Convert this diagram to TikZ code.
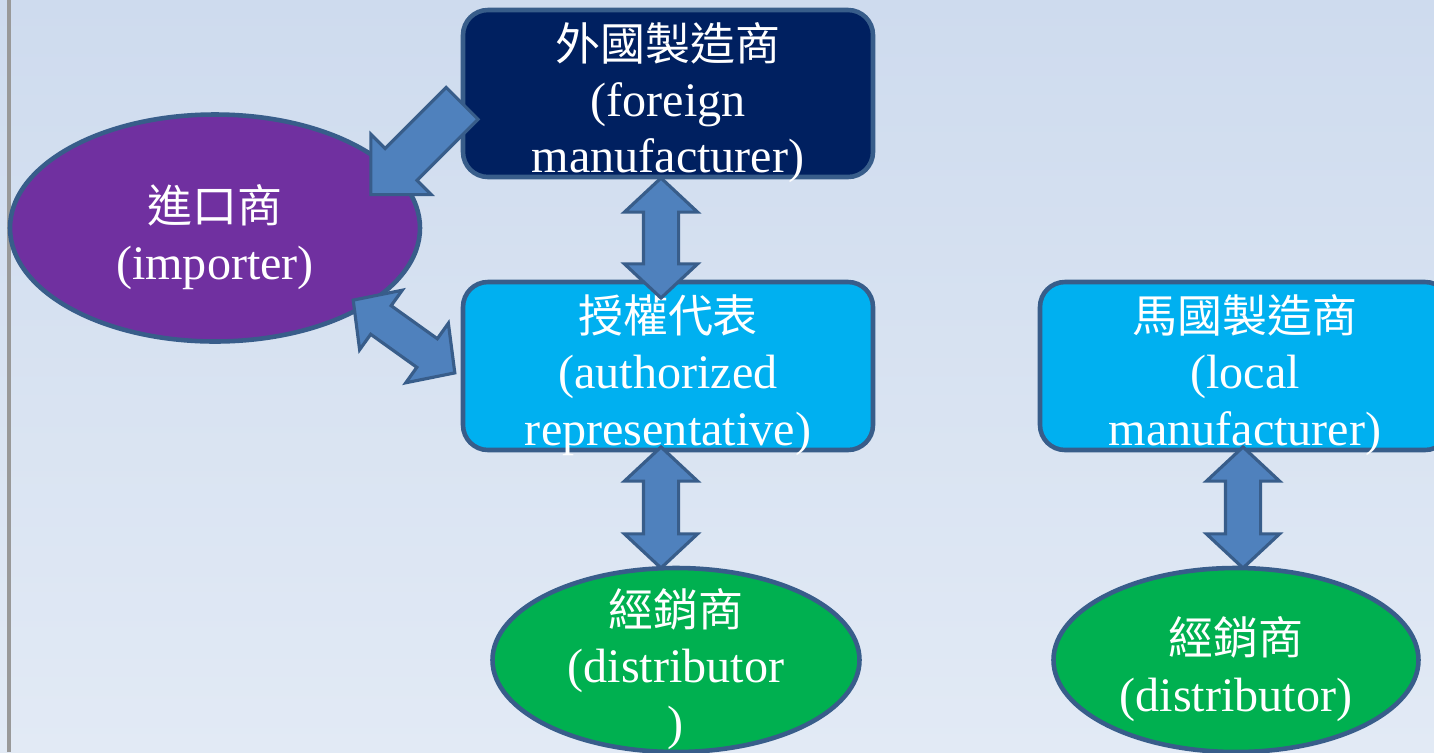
\documentclass[tikz,border=0pt]{standalone}
\usepackage{xcolor}
\usepackage{fontspec}
\setmainfont{Liberation Serif}
\newfontfamily\cjk{Noto Sans CJK TC}
\usepackage{tikz}
\usetikzlibrary{shapes.geometric, shapes.arrows}

\definecolor{bgtop}{HTML}{CEDBEE}
\definecolor{bgbot}{HTML}{E2EAF5}
\definecolor{navyfill}{HTML}{002060}
\definecolor{purplefill}{HTML}{7030A0}
\definecolor{cyanfill}{HTML}{00B0F0}
\definecolor{greenfill}{HTML}{00B050}
\definecolor{arrowfill}{HTML}{4F81BD}
\definecolor{edgeblue}{HTML}{385D8A}

% first (Chinese) line of a node, with a strut so the text sits a bit low
\newcommand{\cjkline}[1]{{\cjk\fontsize{12.8}{16.0}\selectfont\rule{0pt}{0.56cm}#1}}

\begin{document}
\begin{tikzpicture}[boxnode/.style={rectangle, rounded corners=0.25cm, draw=edgeblue, line width=1.3pt, minimum width=4.1cm, minimum height=1.67cm, text=white, align=center, inner xsep=0pt, inner ysep=-0.1cm, font=\fontsize{13.7}{16.0}\selectfont},
  ovalnode/.style={ellipse, draw=edgeblue, line width=1.3pt, text=white, align=center, inner xsep=0pt, inner ysep=-0.3cm, font=\fontsize{13.7}{16.0}\selectfont},
  dblarrow/.style={double arrow, draw=edgeblue, fill=arrowfill, line width=0.9pt, minimum width=0.70cm, minimum height=1.21cm, double arrow head extend=0.19cm, double arrow tip angle=94, inner xsep=0pt, inner ysep=0.16cm},
  sglarrow/.style={single arrow, draw=edgeblue, fill=arrowfill, line width=0.9pt, minimum width=0.82cm, minimum height=1.29cm, single arrow head extend=0.20cm, single arrow tip angle=90, inner xsep=0pt, inner ysep=0.21cm}]
\clip (0,0) rectangle (14.34,7.52);
\shade[top color=bgtop, bottom color=bgbot] (0,0) rectangle (14.34,7.52);
\draw[gray!80, line width=0.9pt] (0.09,0) -- (0.09,7.52);

\node[boxnode, fill=navyfill] at (6.68, 6.585) (foreign) {\cjkline{外國製造商}\\(foreign\\manufacturer)};
\node[ovalnode, fill=purplefill, minimum width=4.1cm, minimum height=2.27cm] at (2.15, 5.24) (importer) {\cjkline{進口商}\\(importer)};
\node[boxnode, fill=cyanfill, minimum height=1.68cm] at (6.68, 3.86) (authrep) {\cjkline{授權代表}\\(authorized\\representative)};
\node[boxnode, fill=cyanfill, minimum height=1.68cm] at (12.45, 3.86) (localmfr) {\cjkline{馬國製造商}\\(local\\manufacturer)};
\node[ovalnode, fill=greenfill, minimum width=3.67cm, minimum height=1.84cm] at (6.76, 0.92) (dist1) {\cjkline{經銷商}\\(distributor\\)};
\node[ovalnode, fill=greenfill, minimum width=3.65cm, minimum height=1.84cm] at (12.36, 0.92) (dist2) {\cjkline{經銷商}\\(distributor)};

\node[sglarrow, rotate=225] at (4.245, 6.11) (fmimp) {};
\node[dblarrow, rotate=90, minimum height=1.20cm] at (6.61, 5.14) (fmar) {};
\node[dblarrow, rotate=-35.6, minimum height=1.25cm] at (4.04, 4.155) (impar) {};
\node[dblarrow, rotate=90] at (6.61, 2.445) (ard1) {};
\node[dblarrow, rotate=90] at (12.43, 2.445) (lmd2) {};

\end{tikzpicture}
\end{document}
